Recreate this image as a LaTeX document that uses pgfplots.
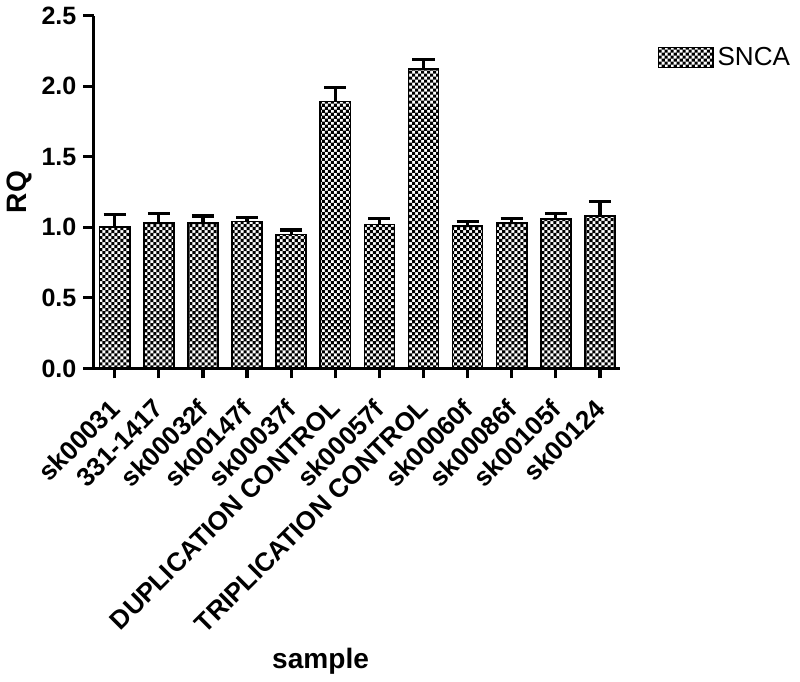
\documentclass[border=0pt]{standalone}
\usepackage{fontspec}
\setmainfont{Liberation Sans}
\usepackage{pgfplots}
\pgfplotsset{compat=1.18}
\usetikzlibrary{patterns}
\pgfdeclarepatternformonly{finecheck}{\pgfqpoint{-0.5pt}{-0.5pt}}{\pgfqpoint{3pt}{3pt}}{\pgfqpoint{3pt}{3pt}}{%
  \pgfpathrectangle{\pgfqpoint{0pt}{0pt}}{\pgfqpoint{1.55pt}{1.55pt}}%
  \pgfpathrectangle{\pgfqpoint{1.5pt}{1.5pt}}{\pgfqpoint{1.55pt}{1.55pt}}%
  \pgfusepath{fill}}
\begin{document}
\begin{tikzpicture}
\begin{axis}[
  scale only axis, width=262.5pt, height=176pt,
  xmin=-0.48, xmax=11.45, ymin=0, ymax=2.5,
  axis lines=left, axis line style={-, line width=1.6pt},
  tick style={line width=1.6pt, black}, tick align=outside,
  major tick length=5pt,
  ytick={0,0.5,1,1.5,2,2.5},
  yticklabel style={font=\bfseries\fontsize{12.5}{14}\selectfont,
    /pgf/number format/fixed, /pgf/number format/fixed zerofill,
    /pgf/number format/precision=1, /pgf/number format/assume math mode=true},
  xtick={0,...,11},
  xticklabels={sk00031,331-1417,sk00032f,sk00147f,sk00037f,DUPLICATION CONTROL,sk00057f,TRIPLICATION CONTROL,sk00060f,sk00086f,sk00105f,sk00124},
  xticklabel style={xshift=-3.3pt, yshift=-7.8pt, rotate=45, anchor=north east, font=\bfseries\fontsize{13}{14}\selectfont, inner sep=1pt},
  ylabel={RQ}, xlabel={sample},
  label style={font=\bfseries\fontsize{14}{16}\selectfont},
  xlabel style={xshift=-18pt, yshift=-2pt},
  ylabel style={yshift=-2pt},
  legend style={at={(1.06,0.935)}, anchor=north west, draw=none, font=\fontsize{13}{15}\selectfont},
  legend image code/.code={\draw[pattern=finecheck, draw=black, line width=0.8pt] (0pt,-5pt) rectangle (27pt,5pt);},
  clip=false,
]
\addplot[ybar, bar width=15pt, draw=black, line width=0.8pt, pattern=finecheck,
  error bars/.cd, y dir=plus, y explicit,
  error bar style={line width=1.6pt, black},
  error mark options={line width=1.6pt, mark size=5.5pt, rotate=90, black}]
  table[x=x, y=y, y error=e] {
  x y e
  0 1.00 0.09
  1 1.03 0.07
  2 1.03 0.05
  3 1.04 0.03
  4 0.95 0.03
  5 1.89 0.10
  6 1.02 0.04
  7 2.12 0.07
  8 1.01 0.03
  9 1.03 0.03
  10 1.06 0.04
  11 1.08 0.10
  };
\addlegendentry{SNCA}
\end{axis}
\end{tikzpicture}
\end{document}
